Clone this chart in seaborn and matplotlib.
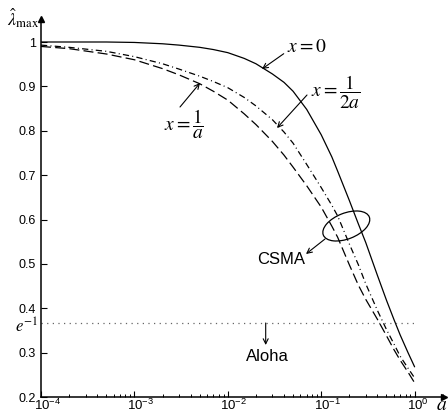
import numpy as np
import pandas as pd
import matplotlib
matplotlib.use("Agg")
import matplotlib.pyplot as plt
import matplotlib.transforms as mtransforms
from matplotlib.patches import Ellipse
import seaborn as sns

# ---------------- data ----------------
a_values = [1e-4, 2e-4, 5e-4, 1e-3, 2e-3, 3e-3, 5e-3, 7e-3, 0.01, 0.015, 0.02,
            0.03, 0.04, 0.05, 0.07, 0.1, 0.13, 0.15, 0.2, 0.25, 0.3, 0.4, 0.5,
            0.6, 0.7, 0.85, 1.0]
lam_x_zero = [1.000, 1.000, 1.000, 0.999, 0.996, 0.993, 0.988, 0.983, 0.976, 0.963,
              0.951, 0.928, 0.909, 0.889, 0.848, 0.791, 0.741, 0.709, 0.643, 0.590,
              0.548, 0.474, 0.418, 0.375, 0.340, 0.300, 0.268]
lam_x_half_inv_a = [0.993, 0.988, 0.979, 0.967, 0.951, 0.939, 0.923, 0.911, 0.897,
                    0.875, 0.856, 0.825, 0.797, 0.772, 0.724, 0.672, 0.632, 0.608,
                    0.545, 0.498, 0.455, 0.395, 0.352, 0.320, 0.292, 0.265, 0.243]
lam_x_inv_a = [0.990, 0.985, 0.973, 0.960, 0.940, 0.926, 0.906, 0.889, 0.869,
               0.838, 0.814, 0.776, 0.745, 0.718, 0.676, 0.628, 0.585, 0.560,
               0.498, 0.452, 0.420, 0.375, 0.338, 0.307, 0.283, 0.256, 0.232]
aloha_level = float(np.exp(-1))
aloha_a_range = [1e-4, 1.0]

ytick_values = [0.2, 0.3, 0.4, 0.5, 0.6, 0.7, 0.8, 0.9, 1.0]
ytick_labels = ["0.2", "0.3", "0.4", "0.5", "0.6", "0.7", "0.8", "0.9", "1"]
xtick_values = [1e-4, 1e-3, 1e-2, 1e-1, 1.0]
xtick_labels = [r"$\mathregular{10^{-4}}$", r"$\mathregular{10^{-3}}$",
                r"$\mathregular{10^{-2}}$", r"$\mathregular{10^{-1}}$",
                r"$\mathregular{10^{0}}$"]

# ---------------- style ----------------
sns.set_theme(style="ticks", rc={
    "axes.edgecolor": "black", "text.color": "black",
    "xtick.color": "black", "ytick.color": "black",
    "axes.labelcolor": "black",
})
plt.rcParams["font.family"] = ["Liberation Sans", "DejaVu Sans"]

W, H = 448, 416
fig = plt.figure(figsize=(W / 100, H / 100), dpi=100)
ax_left, ax_right, ax_top, ax_bottom = 41, 444, 19, 397
ax = fig.add_axes([ax_left / W, (H - ax_bottom) / H,
                   (ax_right - ax_left) / W, (ax_bottom - ax_top) / H])

ax.set_xscale("log")

df = pd.DataFrame({"a": a_values, "x0": lam_x_zero,
                   "half": lam_x_half_inv_a, "inv": lam_x_inv_a})
lw = 0.9
sns.lineplot(data=df, x="a", y="x0", ax=ax, color="black", lw=lw, linestyle="-")
sns.lineplot(data=df, x="a", y="half", ax=ax, color="black", lw=lw,
             linestyle=(0, (5, 2.6, 0.8, 2.6)))
sns.lineplot(data=df, x="a", y="inv", ax=ax, color="black", lw=lw,
             linestyle=(0, (8, 3.4)))

ax.hlines(aloha_level, aloha_a_range[0], aloha_a_range[1], colors="#666666",
          linestyles=(0, (1, 3.5)), lw=0.9)

ax.set_xlim(1e-4, 10 ** ((ax_right - ax_left) / 93.4 - 4))
ax.set_ylim(0.2, 0.2 + (ax_bottom - ax_top) / 443.75)
ax.set_xlabel("")
ax.set_ylabel("")

for s in ["top", "right"]:
    ax.spines[s].set_visible(False)
for s in ["left", "bottom"]:
    ax.spines[s].set_linewidth(1.1)

ax.set_yticks(ytick_values)
ax.set_yticklabels(ytick_labels, fontsize=9)
ax.set_xticks(xtick_values)
ax.set_xticklabels([])
ax.tick_params(axis="both", which="major", direction="in", length=4, width=0.8,
               bottom=True, left=True, top=False, right=False)
ax.tick_params(axis="y", pad=3.5)
ax.tick_params(axis="x", which="minor", direction="in", length=2.5, width=0.7,
               bottom=True, top=False)
ax.minorticks_on()
ax.yaxis.set_minor_locator(matplotlib.ticker.NullLocator())

# x tick labels: base "10" centred on the tick, exponent to the right
xlab_trans = mtransforms.offset_copy(
    mtransforms.blended_transform_factory(ax.transData, ax.transAxes),
    fig=fig, x=-7.5, y=-1.0, units="dots")
for v, lab in zip(xtick_values, xtick_labels):
    ax.text(v, 0, lab, transform=xlab_trans, ha="left", va="top", fontsize=9.5,
            clip_on=False)

# axis arrows
ax.plot(1, 0, ">", color="black", ms=5, transform=ax.transAxes, clip_on=False)
ax.plot(0, 1, "^", color="black", ms=5, transform=ax.transAxes, clip_on=False)

# e^{-1} label
e_trans = mtransforms.offset_copy(
    mtransforms.blended_transform_factory(ax.transAxes, ax.transData),
    fig=fig, x=-3, y=-3.5, units="dots")
ax.text(0, aloha_level, r"$e^{-1}$", transform=e_trans, ha="right", va="center",
        fontsize=12, math_fontfamily="stix")

# ---------------- annotations (figure pixel positions) ----------------
def P(px, py):
    return (px, H - py)

arrow_kw = dict(arrowstyle="->", lw=0.8, color="black", shrinkA=0, shrinkB=0,
                mutation_scale=9)

fig.text(23 / W, (H - 18) / H, r"$\hat{\lambda}_{\max}$", ha="center", va="center",
         fontsize=13, math_fontfamily="stix")
fig.text(442 / W, (H - 406) / H, r"$a$", ha="center", va="center",
         fontsize=14, math_fontfamily="stix")

ax.annotate(r"$x=0$", xy=P(262, 69), xytext=P(287, 48), xycoords="figure pixels",
            textcoords="figure pixels", ha="left", va="center", fontsize=14,
            math_fontfamily="stix", arrowprops=dict(arrow_kw, relpos=(0, 0.3)))
ax.annotate(r"$x=\dfrac{1}{2a}$", xy=P(277, 128), xytext=P(336, 92.5),
            xycoords="figure pixels", textcoords="figure pixels",
            ha="center", va="center", fontsize=14, math_fontfamily="stix")
ax.annotate("", xy=P(277, 128), xytext=P(307, 95), xycoords="figure pixels",
            textcoords="figure pixels", arrowprops=arrow_kw)
ax.annotate(r"$x=\dfrac{1}{a}$", xy=P(200, 83), xytext=P(184, 124),
            xycoords="figure pixels", textcoords="figure pixels",
            ha="center", va="center", fontsize=14, math_fontfamily="stix")
ax.annotate("", xy=P(200, 83), xytext=P(180, 107), xycoords="figure pixels",
            textcoords="figure pixels", arrowprops=arrow_kw)

fig.text(281 / W, (H - 259.5) / H, "CSMA", ha="center", va="center", fontsize=12)
ax.annotate("", xy=P(306, 254), xytext=P(325, 239), xycoords="figure pixels",
            textcoords="figure pixels", arrowprops=arrow_kw)
fig.text(267.5 / W, (H - 356.5) / H, "Aloha", ha="center", va="center", fontsize=12)
ax.annotate("", xy=P(265.7, 345), xytext=P(265.7, 323), xycoords="figure pixels",
            textcoords="figure pixels", arrowprops=arrow_kw)

ell = Ellipse((346.3 / 100, (H - 226) / 100), 49.4 / 100, 25.8 / 100, angle=21.4,
              transform=fig.dpi_scale_trans, fill=False, lw=0.9, color="black")
fig.add_artist(ell)

fig.savefig("out.png", dpi=100)
